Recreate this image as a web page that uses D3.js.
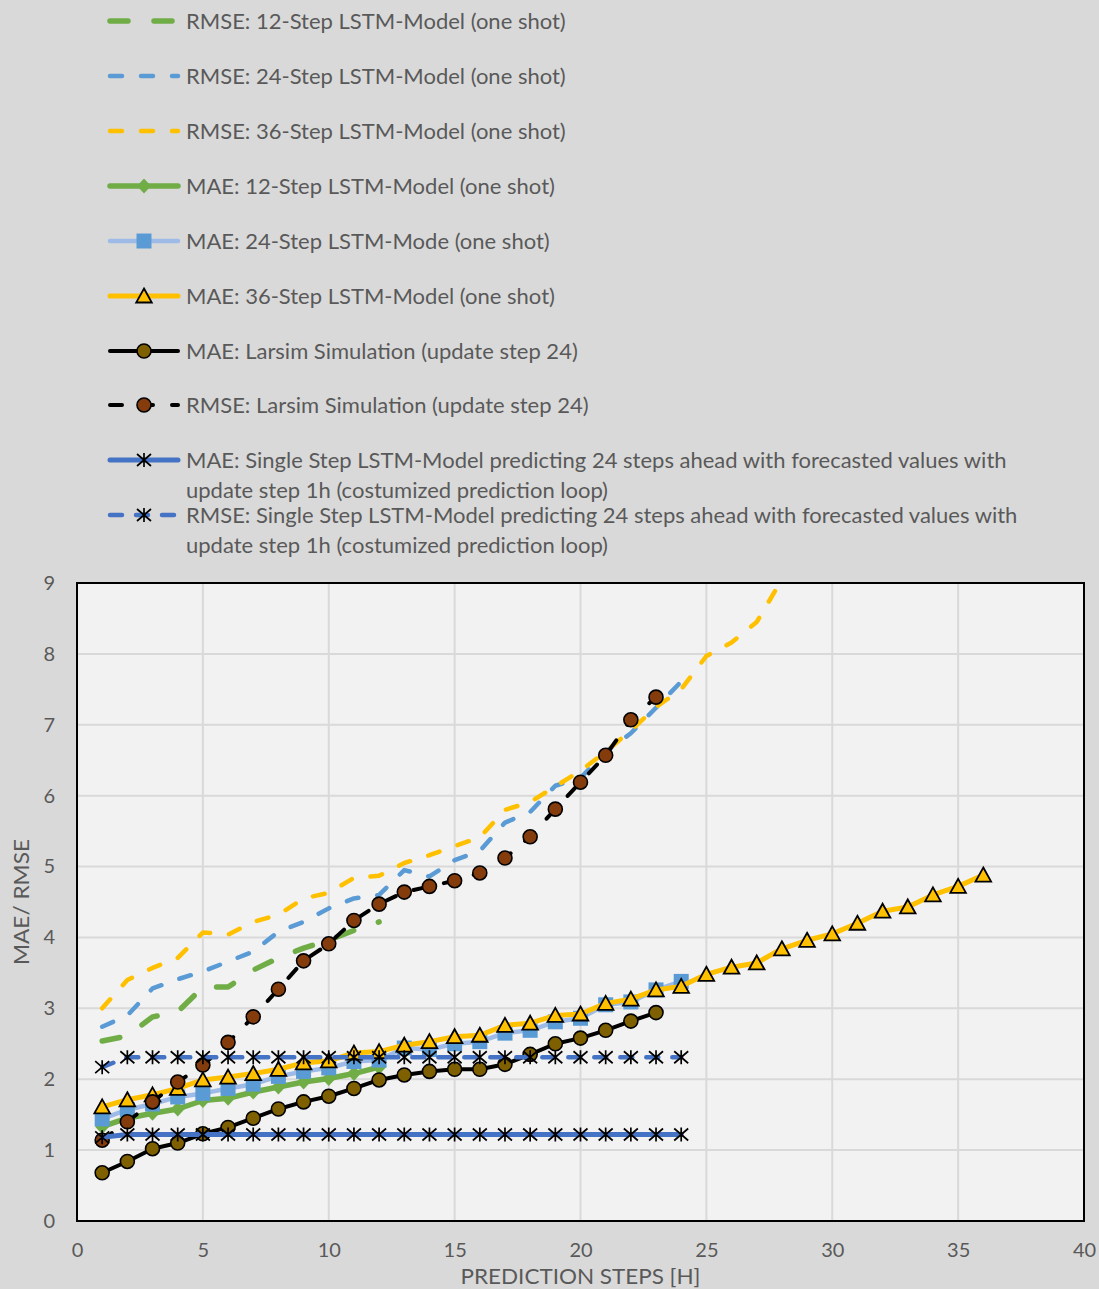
<!DOCTYPE html>
<html>
<head>
<meta charset="utf-8">
<script src="https://cdn.jsdelivr.net/npm/d3@7"></script>
<style>
  html, body { margin: 0; padding: 0; background: #d9d9d9; }
  svg { display: block; }
  text { font-family: Lato, "Open Sans", sans-serif; fill: #595959; }
</style>
</head>
<body>
<svg id="chart" width="1099" height="1289"></svg>
<script>
// ---- data: error per prediction step (step = index + 1) ----
const rmse12 = [2.54, 2.61, 2.88, 2.95, 3.30, 3.30, 3.54, 3.71, 3.85, 3.96, 4.10, 4.22];
const rmse24 = [2.74, 2.90, 3.28, 3.41, 3.52, 3.66, 3.80, 4.08, 4.22, 4.41, 4.55, 4.60,
                4.95, 4.86, 5.09, 5.22, 5.62, 5.77, 6.14, 6.25, 6.62, 6.88, 7.24, 7.61];
const rmse36 = [3.00, 3.40, 3.57, 3.71, 4.07, 4.04, 4.22, 4.32, 4.55, 4.63, 4.84, 4.87,
                5.05, 5.16, 5.29, 5.41, 5.80, 5.91, 6.13, 6.35, 6.62, 6.92, 7.25, 7.50,
                7.97, 8.16, 8.45, 9.05];
const mae12 = [1.33, 1.45, 1.52, 1.58, 1.70, 1.73, 1.82, 1.89, 1.96, 2.01, 2.08, 2.17];
const mae24 = [1.44, 1.57, 1.65, 1.75, 1.80, 1.87, 1.93, 2.04, 2.11, 2.16, 2.25, 2.27,
               2.44, 2.42, 2.50, 2.53, 2.65, 2.69, 2.81, 2.86, 3.05, 3.09, 3.26, 3.38];
const mae36 = [1.61, 1.71, 1.78, 1.87, 1.99, 2.03, 2.08, 2.14, 2.23, 2.26, 2.37, 2.39,
               2.48, 2.53, 2.60, 2.62, 2.76, 2.79, 2.90, 2.92, 3.07, 3.13, 3.26, 3.31,
               3.48, 3.58, 3.64, 3.84, 3.96, 4.05, 4.20, 4.37, 4.43, 4.60, 4.72, 4.88];
const maeLarsim = [0.68, 0.84, 1.02, 1.10, 1.23, 1.32, 1.45, 1.58, 1.68, 1.76, 1.87, 1.99,
                   2.06, 2.11, 2.14, 2.14, 2.21, 2.35, 2.50, 2.58, 2.69, 2.82, 2.94];
const rmseLarsim = [1.14, 1.40, 1.68, 1.96, 2.20, 2.52, 2.88, 3.27, 3.67, 3.91, 4.24, 4.47,
                    4.64, 4.72, 4.80, 4.91, 5.12, 5.42, 5.81, 6.19, 6.57, 7.07, 7.39];
const maeSingle = [1.18, 1.22, 1.22, 1.22, 1.22, 1.22, 1.22, 1.22, 1.22, 1.22, 1.22, 1.22,
                   1.22, 1.22, 1.22, 1.22, 1.22, 1.22, 1.22, 1.22, 1.22, 1.22, 1.22, 1.22];
const rmseSingle = [2.17, 2.31, 2.31, 2.31, 2.31, 2.31, 2.31, 2.31, 2.31, 2.31, 2.31, 2.31,
                    2.31, 2.31, 2.31, 2.31, 2.31, 2.31, 2.31, 2.31, 2.31, 2.31, 2.31, 2.31];

const xTicks = [0, 5, 10, 15, 20, 25, 30, 35, 40];
const yTicks = [0, 1, 2, 3, 4, 5, 6, 7, 8, 9];
const xTitle = "PREDICTION STEPS [H]";
const yTitle = "MAE/ RMSE";

// series in drawing order (later ones on top)
const series = [
  { name: ["RMSE: 12-Step LSTM-Model (one shot)"], values: rmse12, color: "#70ad47", width: 5.5, dash: "18,26", marker: null },
  { name: ["RMSE: 24-Step LSTM-Model (one shot)"], values: rmse24, color: "#5b9bd5", width: 4.5, dash: "12,19", marker: null },
  { name: ["RMSE: 36-Step LSTM-Model (one shot)"], values: rmse36, color: "#ffc000", width: 4.5, dash: "12,19", marker: null },
  { name: ["MAE: 12-Step LSTM-Model (one shot)"], values: mae12, color: "#70ad47", width: 5.5, dash: null, marker: "diamond", fill: "#70ad47" },
  { name: ["MAE: 24-Step LSTM-Mode (one shot)"], values: mae24, color: "#9dbbe6", width: 4.5, dash: null, marker: "square", fill: "#5b9bd5" },
  { name: ["MAE: 36-Step LSTM-Model (one shot)"], values: mae36, color: "#ffc000", width: 5, dash: null, marker: "triangle", fill: "#ffc000" },
  { name: ["MAE: Larsim Simulation (update step 24)"], values: maeLarsim, color: "#000000", width: 4, dash: null, marker: "circle", fill: "#7f6000" },
  { name: ["RMSE: Larsim Simulation (update step 24)"], values: rmseLarsim, color: "#000000", width: 4, dash: "12,19", marker: "circle", fill: "#843c0c" },
  { name: ["MAE: Single Step LSTM-Model predicting 24 steps ahead with forecasted values with",
           "update step 1h (costumized prediction loop)"], values: maeSingle, color: "#4472c4", width: 5, dash: null, marker: "star" },
  { name: ["RMSE: Single Step LSTM-Model predicting 24 steps ahead with forecasted values with",
           "update step 1h (costumized prediction loop)"], values: rmseSingle, color: "#4472c4", width: 4.5, dash: "12,14", marker: "star" }
];

const svg = d3.select("#chart");
const W = 1099, H = 1289;
svg.append("rect").attr("width", W).attr("height", H).attr("fill", "#d9d9d9");

const plot = { left: 77, right: 1084, top: 583, bottom: 1221 };
const x = d3.scaleLinear().domain([0, 40]).range([plot.left, plot.right]);
const y = d3.scaleLinear().domain([0, 9]).range([plot.bottom, plot.top]);

// plot background
svg.append("rect")
  .attr("x", plot.left).attr("y", plot.top)
  .attr("width", plot.right - plot.left).attr("height", plot.bottom - plot.top)
  .attr("fill", "#f2f2f2");

// gridlines
const grid = svg.append("g");
grid.selectAll("line.gx").data(xTicks.slice(1, -1)).join("line")
  .attr("x1", d => x(d)).attr("x2", d => x(d))
  .attr("y1", plot.top).attr("y2", plot.bottom)
  .attr("stroke", "#d9d9d9").attr("stroke-width", 2);
grid.selectAll("line.gy").data(yTicks.slice(1, -1)).join("line")
  .attr("x1", plot.left).attr("x2", plot.right)
  .attr("y1", d => y(d)).attr("y2", d => y(d))
  .attr("stroke", "#d9d9d9").attr("stroke-width", 2);

// axes labels via d3 axes
const yAxis = svg.append("g")
  .attr("transform", `translate(${plot.left},0)`)
  .call(d3.axisLeft(y).tickValues(yTicks).tickSize(0).tickPadding(22).tickFormat(d3.format("d")));
yAxis.select(".domain").remove();
yAxis.selectAll("text").attr("font-size", 20).attr("fill", "#595959")
  .style("font-family", "Lato, 'Open Sans', sans-serif");

const xAxis = svg.append("g")
  .attr("transform", `translate(0,${plot.bottom})`)
  .call(d3.axisBottom(x).tickValues(xTicks).tickSize(0).tickPadding(22).tickFormat(d3.format("d")));
xAxis.select(".domain").remove();
xAxis.selectAll("text").attr("font-size", 20).attr("fill", "#595959")
  .style("font-family", "Lato, 'Open Sans', sans-serif");

svg.append("text")
  .attr("x", (plot.left + plot.right) / 2).attr("y", 1284)
  .attr("text-anchor", "middle").attr("font-size", 21)
  .attr("textLength", 240).attr("lengthAdjust", "spacingAndGlyphs")
  .text(xTitle);
svg.append("text")
  .attr("transform", `translate(29,${(plot.top + plot.bottom) / 2}) rotate(-90)`)
  .attr("text-anchor", "middle").attr("font-size", 21)
  .attr("textLength", 126).attr("lengthAdjust", "spacingAndGlyphs")
  .text(yTitle);

// clip for the series
svg.append("clipPath").attr("id", "plotClip")
  .append("rect")
  .attr("x", plot.left).attr("y", plot.top)
  .attr("width", plot.right - plot.left).attr("height", plot.bottom - plot.top);

// marker shapes
function markerPath(type) {
  switch (type) {
    case "diamond": return "M0,-7.5L7,0L0,7.5L-7,0Z";
    case "square": return "M-7.5,-7.5H7.5V7.5H-7.5Z";
    case "triangle": return "M0,-7.5L7.8,6.5H-7.8Z";
    case "star": return "M0,-7V7M-7,-6L7,6M7,-6L-7,6";
    default: return null;
  }
}
function drawMarker(g, type, fill) {
  if (type === "circle") {
    g.append("circle").attr("r", 7).attr("fill", fill).attr("stroke", "#000").attr("stroke-width", 1.6);
  } else if (type === "star") {
    g.append("path").attr("d", markerPath(type)).attr("fill", "none").attr("stroke", "#000").attr("stroke-width", 1.7);
  } else if (type === "triangle") {
    g.append("path").attr("d", markerPath(type)).attr("fill", fill).attr("stroke", "#000").attr("stroke-width", 1.8)
      .attr("stroke-linejoin", "miter");
  } else if (type) {
    g.append("path").attr("d", markerPath(type)).attr("fill", fill);
  }
}

const line = d3.line().x((d, i) => x(i + 1)).y(d => y(d));
const layer = svg.append("g").attr("clip-path", "url(#plotClip)");

series.forEach(s => {
  const g = layer.append("g");
  g.append("path")
    .attr("d", line(s.values))
    .attr("fill", "none")
    .attr("stroke", s.color)
    .attr("stroke-width", s.width)
    .attr("stroke-linecap", "round")
    .attr("stroke-linejoin", "round")
    .attr("stroke-dasharray", s.dash);
  if (s.marker) {
    s.values.forEach((v, i) => {
      const mg = g.append("g").attr("transform", `translate(${x(i + 1)},${y(v)})`);
      drawMarker(mg, s.marker, s.fill);
    });
  }
});

// plot frame
svg.append("rect")
  .attr("x", plot.left).attr("y", plot.top)
  .attr("width", plot.right - plot.left).attr("height", plot.bottom - plot.top)
  .attr("fill", "none").attr("stroke", "#000").attr("stroke-width", 2);

// legend
const legend = svg.append("g");
const rowCenters = [21, 76, 131, 186, 241, 296, 351, 405, 460, 515];
series.forEach((s, i) => {
  const cy = rowCenters[i];
  const g = legend.append("g");
  g.append("line")
    .attr("x1", 110).attr("x2", 178).attr("y1", cy).attr("y2", cy)
    .attr("stroke", s.color).attr("stroke-width", s.width)
    .attr("stroke-linecap", "round")
    .attr("stroke-dasharray", s.dash);
  if (s.marker) {
    const mg = g.append("g").attr("transform", `translate(144,${cy})`);
    drawMarker(mg, s.marker, s.fill);
  }
  s.name.forEach((t, k) => {
    g.append("text")
      .attr("x", 186).attr("y", cy + 8 + k * 30)
      .attr("font-size", 22)
      .text(t);
  });
});
</script>
</body>
</html>
